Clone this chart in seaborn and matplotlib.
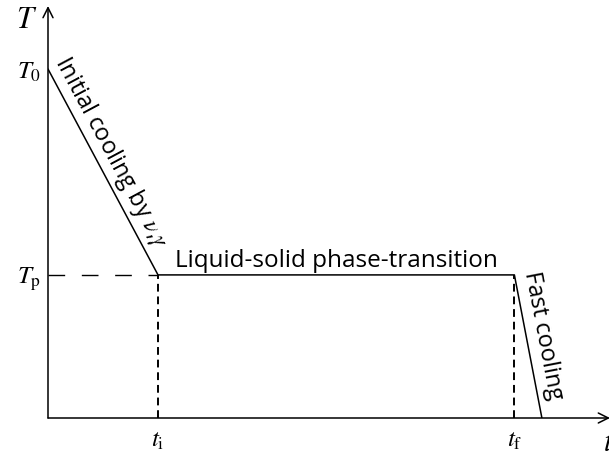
import numpy as np
import matplotlib
matplotlib.use("Agg")
import matplotlib.pyplot as plt
import pandas as pd
import seaborn as sns

# Curve corners (time, temperature), arbitrary units
t_points = [0.0, 1.0, 4.24, 4.49]
T_points = [1.0, 0.41, 0.41, 0.0]
t_i, t_f = t_points[1], t_points[2]
T_0, T_p = T_points[0], T_points[1]

x_tick_labels = [r"$t_\mathrm{i}$", r"$t_\mathrm{f}$"]
y_tick_labels = [r"$T_\mathrm{p}$", r"$T_0$"]
stage_labels = ["Initial cooling by $\\nu$,$\\gamma$",
                "Liquid-solid phase-transition",
                "Fast cooling"]

sns.set_theme(style="white")
plt.rcParams["font.family"] = ["Open Sans", "DejaVu Sans"]
plt.rcParams["mathtext.fontset"] = "stix"
plt.rcParams["text.color"] = "black"
plt.rcParams["xtick.color"] = "black"
plt.rcParams["ytick.color"] = "black"

W, H = 609, 455
fig = plt.figure(figsize=(W / 100, H / 100), dpi=100)
ax = fig.add_axes([48 / W, 37 / H, 562 / W, 412 / H])

df = pd.DataFrame({"t": t_points, "T": T_points})
sns.lineplot(data=df, x="t", y="T", color="black", lw=1.1, ax=ax)

# guide lines
ax.plot([0, t_i], [T_p, T_p], color="black", lw=1.0, dashes=(12, 12))
ax.plot([t_i, t_i], [0, T_p], color="black", lw=1.4, dashes=(4, 2.5))
ax.plot([t_f, t_f], [0, T_p], color="black", lw=1.4, dashes=(4, 2.5))

ax.set_xlim(0, 562 / 110)
ax.set_ylim(0, 412 / 349)
sns.despine(ax=ax, left=True, bottom=True, top=True, right=True)

ax.set_xticks([t_i, t_f])
ax.set_xticklabels(x_tick_labels, fontsize=18)
ax.set_yticks([T_p, T_0])
ax.set_yticklabels(y_tick_labels, fontsize=18)
ax.tick_params(axis="x", length=0, pad=7)
ax.tick_params(axis="y", length=0, pad=5)
ax.set_xlabel("")
ax.set_ylabel("")

# axis arrows
arrow = dict(arrowstyle="->", lw=1.1, color="black", mutation_scale=18,
             shrinkA=0, shrinkB=0)
ax.annotate("", xy=(0, 1), xytext=(0, 0), xycoords="axes fraction",
            arrowprops=arrow, annotation_clip=False)
ax.annotate("", xy=(1, 0), xytext=(0, 0), xycoords="axes fraction",
            arrowprops=arrow, annotation_clip=False)

fig.text(27 / W, 1 - 20 / H, "$T$", fontsize=22, ha="center", va="center")
fig.text(603 / W, 1 - 428 / H, "$t$", fontsize=22, ha="left", va="top")


def along(p_from, p_to, label, s, d):
    a = ax.transData.transform(p_from)
    b = ax.transData.transform(p_to)
    ang = np.arctan2(b[1] - a[1], b[0] - a[0])
    off = (s * np.cos(ang) - d * np.sin(ang), s * np.sin(ang) + d * np.cos(ang))
    ax.annotate(label, xy=p_from, xytext=off, textcoords="offset points",
                rotation=np.degrees(ang), rotation_mode="anchor",
                ha="left", va="baseline", fontsize=17)


along((t_points[0], T_points[0]), (t_points[1], T_points[1]), stage_labels[0], -3, 7)
ax.annotate(stage_labels[1], xy=((t_i + t_f) / 2, T_p), xytext=(0, 6),
            textcoords="offset points", ha="center", va="baseline", fontsize=17.5)
along((t_points[2], T_points[2]), (t_points[3], T_points[3]), stage_labels[2], 0, 8)

fig.savefig("out.png", dpi=100)
